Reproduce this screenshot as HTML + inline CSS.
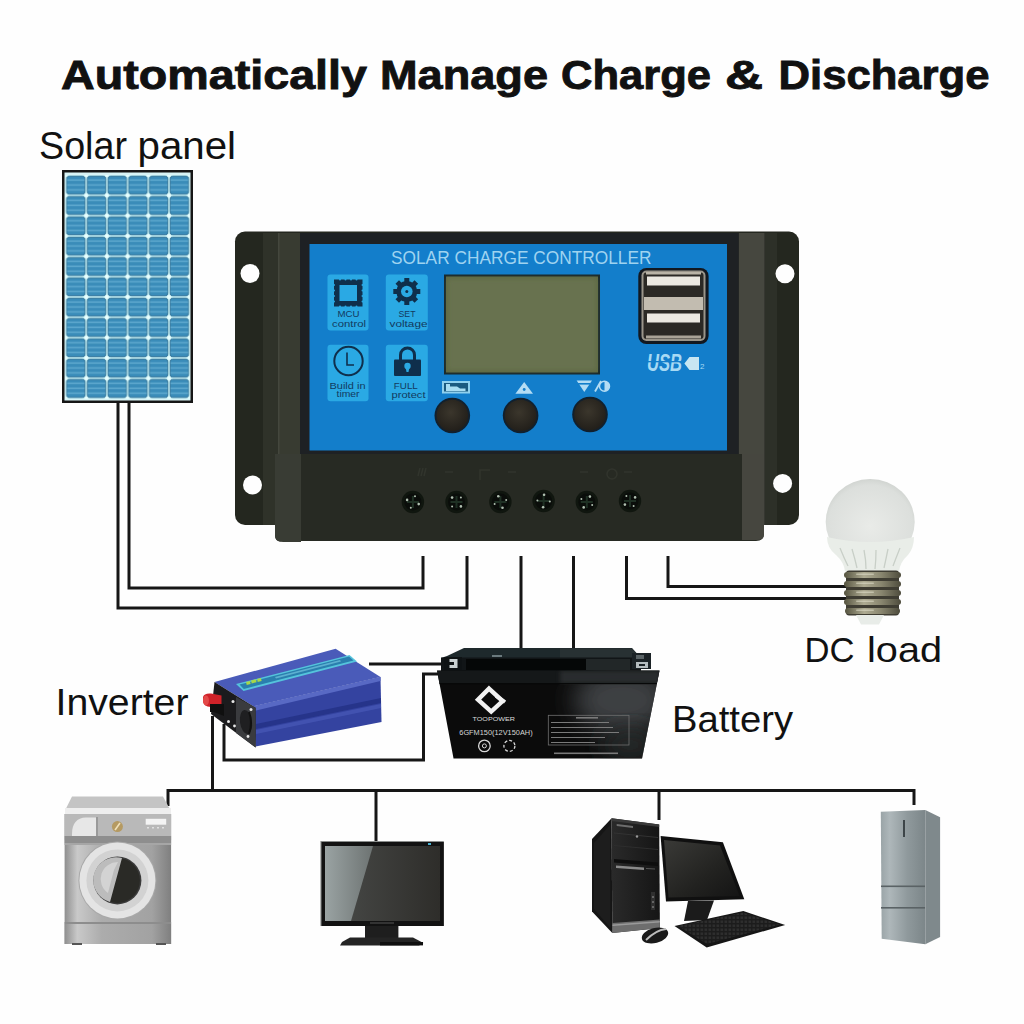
<!DOCTYPE html>
<html><head><meta charset="utf-8">
<style>
html,body{margin:0;padding:0;background:#fefefe;width:1024px;height:1024px;overflow:hidden}
svg{display:block}
text{font-family:"Liberation Sans",sans-serif}
</style></head>
<body>
<svg width="1024" height="1024" viewBox="0 0 1024 1024">
<defs>
  <pattern id="cells" x="65.5" y="175" width="20.7" height="20.33" patternUnits="userSpaceOnUse">
    <rect x="0" y="0" width="20.7" height="20.33" fill="#bfeaf0"/>
    <rect x="1.2" y="1.2" width="18.3" height="17.93" rx="2.5" fill="#3a8cb9" stroke="#2b6a90" stroke-width="0.8"/>
    <rect x="1.6" y="4.3" width="17.5" height="1.6" fill="#64aed2" opacity="0.8"/>
    <rect x="1.6" y="9.2" width="17.5" height="1.6" fill="#64aed2" opacity="0.8"/>
    <rect x="1.6" y="14.1" width="17.5" height="1.6" fill="#64aed2" opacity="0.8"/>
    <circle cx="0" cy="0" r="2" fill="#e8ffff"/>
    <circle cx="20.7" cy="0" r="2" fill="#e8ffff"/>
    <circle cx="0" cy="20.33" r="2" fill="#e8ffff"/>
    <circle cx="20.7" cy="20.33" r="2" fill="#e8ffff"/>
  </pattern>
  <linearGradient id="battG" x1="0" x2="1" y1="0" y2="0">
    <stop offset="0" stop-color="#0b0b0b"/>
    <stop offset="0.5" stop-color="#0c0c0c"/>
    <stop offset="0.68" stop-color="#1c1c1c"/>
    <stop offset="0.82" stop-color="#2e2f2f"/>
    <stop offset="1" stop-color="#121212"/>
  </linearGradient>
  <linearGradient id="wmG" x1="0" x2="1">
    <stop offset="0" stop-color="#8f8f8f"/>
    <stop offset="0.12" stop-color="#c9c9c9"/>
    <stop offset="0.35" stop-color="#acacac"/>
    <stop offset="0.82" stop-color="#a2a2a2"/>
    <stop offset="1" stop-color="#7f7f7f"/>
  </linearGradient>
  <linearGradient id="frG" x1="0" x2="1">
    <stop offset="0" stop-color="#9aa4a7"/>
    <stop offset="0.2" stop-color="#aeb7ba"/>
    <stop offset="0.6" stop-color="#8f999c"/>
    <stop offset="1" stop-color="#7c8689"/>
  </linearGradient>
  <radialGradient id="bulbG" cx="0.5" cy="0.55" r="0.6">
    <stop offset="0" stop-color="#e9ebe8"/>
    <stop offset="0.8" stop-color="#dcdfdc"/>
    <stop offset="1" stop-color="#c9cdc9"/>
  </radialGradient>
  <linearGradient id="baseG" x1="0" x2="1">
    <stop offset="0" stop-color="#55533f"/>
    <stop offset="0.35" stop-color="#aeab92"/>
    <stop offset="0.65" stop-color="#8a8770"/>
    <stop offset="1" stop-color="#4d4b3c"/>
  </linearGradient>
  <linearGradient id="tvG" x1="0" x2="1">
    <stop offset="0" stop-color="#4a4c4a"/>
    <stop offset="1" stop-color="#2e2d2a"/>
  </linearGradient>
  <linearGradient id="tvG2" x1="0" x2="1" y1="0" y2="0">
    <stop offset="0" stop-color="#9aa3a3"/>
    <stop offset="1" stop-color="#6d7372"/>
  </linearGradient>
  <linearGradient id="pcG" x1="0" x2="1">
    <stop offset="0" stop-color="#2a2a2a"/>
    <stop offset="1" stop-color="#151515"/>
  </linearGradient>
  <filter id="blur2" x="-10%" y="-10%" width="120%" height="120%"><feGaussianBlur stdDeviation="2"/></filter>
  <filter id="blur12" x="-50%" y="-50%" width="200%" height="200%"><feGaussianBlur stdDeviation="12"/></filter>
  <clipPath id="battClip"><polygon points="437,670.5 659.5,670.5 642,758.5 453.5,758.5"/></clipPath>
  <linearGradient id="pcScr" x1="0" y1="0" x2="1" y2="1">
    <stop offset="0" stop-color="#3a3a37"/>
    <stop offset="0.6" stop-color="#222220"/>
    <stop offset="1" stop-color="#141414"/>
  </linearGradient>
  <pattern id="keys" x="0" y="0" width="4" height="4" patternUnits="userSpaceOnUse">
    <rect width="4" height="4" fill="#1c1c1c"/>
    <rect x="0.5" y="0.5" width="2.6" height="2.4" fill="#2e2e2e"/>
  </pattern>
  <radialGradient id="btnG" cx="0.45" cy="0.4" r="0.6">
    <stop offset="0" stop-color="#3b362c"/>
    <stop offset="1" stop-color="#221f1a"/>
  </radialGradient>
</defs>

<!-- Title -->
<g font-size="41.5" font-weight="bold" fill="#111" stroke="#111" stroke-width="0.9">
<text x="61" y="89.3" textLength="306" lengthAdjust="spacingAndGlyphs">Automatically</text>
<text x="380" y="89.3" textLength="168" lengthAdjust="spacingAndGlyphs">Manage</text>
<text x="561" y="89.3" textLength="150" lengthAdjust="spacingAndGlyphs">Charge</text>
<text x="725" y="89.3" textLength="38" lengthAdjust="spacingAndGlyphs">&amp;</text>
<text x="778.5" y="89.3" textLength="211" lengthAdjust="spacingAndGlyphs">Discharge</text>
</g>

<!-- Labels -->
<text x="39" y="158.7" font-size="38" fill="#111" textLength="88" lengthAdjust="spacingAndGlyphs">Solar</text><text x="137.5" y="158.7" font-size="38" fill="#111" textLength="98.5" lengthAdjust="spacingAndGlyphs">panel</text>
<text x="55.5" y="715.4" font-size="37.5" fill="#111" textLength="133" lengthAdjust="spacingAndGlyphs">Inverter</text>
<text x="672" y="732" font-size="37" fill="#111" textLength="121" lengthAdjust="spacingAndGlyphs">Battery</text>
<text x="804.5" y="662.3" font-size="35" fill="#111" textLength="50" lengthAdjust="spacingAndGlyphs">DC</text><text x="867" y="662.3" font-size="35" fill="#111" textLength="75" lengthAdjust="spacingAndGlyphs">load</text>

<!-- Solar panel -->
<rect x="62" y="170" width="131" height="233" fill="#161616"/>
<rect x="64.5" y="172.5" width="126" height="228" fill="#d8f4f6"/>
<rect x="65.5" y="175" width="124.2" height="223.7" fill="url(#cells)"/>

<!-- Wires -->
<g fill="none" stroke="#161616" stroke-width="3" stroke-linejoin="miter">
  <path d="M118,402 V608 H467 V556"/>
  <path d="M129,402 V588 H423 V556"/>
  <path d="M521,556 V648"/>
  <path d="M573.5,556 V648"/>
  <path d="M626.5,556 V598.5 H846"/>
  <path d="M668,556 V586.5 H846"/>
  <path d="M369,664 H447"/>
  <path d="M438,674 H423.5 V760 H224 V724"/>
  <path d="M212.5,716 V790.5"/>
  <path d="M168,806 V790.5 H914 V805"/>
  <path d="M376,790.5 V841"/>
  <path d="M659,790.5 V820"/>
</g>

<!-- Controller -->
<g id="controller">
  <rect x="235" y="231.5" width="564" height="293.5" rx="10" fill="#24271f"/>
  <!-- body side strips -->
  <rect x="263" y="233" width="15" height="292" fill="#2f3229"/>
  <rect x="278" y="233" width="22" height="292" fill="#383b31"/>
  <rect x="278" y="233" width="1.5" height="292" fill="#44473d"/>
  <rect x="738.7" y="233" width="26" height="292" fill="#46473f"/>
  <rect x="764.7" y="233" width="12.3" height="292" fill="#2d3028"/>
  <rect x="300" y="233" width="438.7" height="222" fill="#1e2124"/>
  <!-- blue panel -->
  <rect x="309.5" y="244" width="417.5" height="206.5" fill="#137ecb"/>
  <!-- tiles -->
  <g fill="#2aa9e4">
    <rect x="327.5" y="274.5" width="41" height="56" rx="3"/>
    <rect x="385.8" y="274.5" width="42" height="56" rx="3"/>
    <rect x="327.5" y="344.8" width="41" height="56.5" rx="3"/>
    <rect x="385.8" y="344.8" width="42" height="56.5" rx="3"/>
  </g>
  <g fill="#0f2f4c" stroke="none">
    <!-- chip -->
    <path d="M334,279.5 H362.5 V306.5 H334 Z M339.5,285 V301 H357 V285 Z" fill-rule="evenodd"/>
    <g fill="#2aa9e4">
      <circle cx="340" cy="279.5" r="1"/><circle cx="345.5" cy="279.5" r="1"/><circle cx="351" cy="279.5" r="1"/><circle cx="356.5" cy="279.5" r="1"/>
      <circle cx="340" cy="306.5" r="1"/><circle cx="345.5" cy="306.5" r="1"/><circle cx="351" cy="306.5" r="1"/><circle cx="356.5" cy="306.5" r="1"/>
      <circle cx="334" cy="285" r="1"/><circle cx="334" cy="290.5" r="1"/><circle cx="334" cy="296" r="1"/><circle cx="334" cy="301.5" r="1"/>
      <circle cx="362.5" cy="285" r="1"/><circle cx="362.5" cy="290.5" r="1"/><circle cx="362.5" cy="296" r="1"/><circle cx="362.5" cy="301.5" r="1"/>
    </g>
    <!-- gear -->
    <g transform="translate(406.8,291.5)">
      <circle r="10.5"/>
      <rect x="-2.5" y="-13.5" width="5" height="27"/>
      <rect x="-2.5" y="-13.5" width="5" height="27" transform="rotate(45)"/>
      <rect x="-2.5" y="-13.5" width="5" height="27" transform="rotate(90)"/>
      <rect x="-2.5" y="-13.5" width="5" height="27" transform="rotate(135)"/>
      <circle r="5.8" fill="#2aa9e4"/>
      <circle r="1.5"/>
    </g>
    <!-- clock -->
    <circle cx="348.5" cy="361" r="14.2" fill="none" stroke="#0f2f4c" stroke-width="2"/>
    <path d="M347,352.5 V365 H354" fill="none" stroke="#0f2f4c" stroke-width="1.6"/>
    <!-- lock -->
    <path d="M400.5,360 V355 A6.8,6.8 0 0,1 414.5,355 V360" fill="none" stroke="#0f2f4c" stroke-width="3"/>
    <rect x="394" y="359.5" width="27" height="16.5" rx="1"/>
    <circle cx="407.5" cy="366" r="3.2" fill="#2aa9e4"/>
    <path d="M405.5,367 L409.5,367 L408.5,372 L406.5,372 Z" fill="#2aa9e4"/>
  </g>
  <g font-size="9" fill="#123a60" text-anchor="middle">
    <text x="348.5" y="316.5" textLength="22" lengthAdjust="spacingAndGlyphs">MCU</text>
    <text x="349" y="326.5" textLength="34" lengthAdjust="spacingAndGlyphs">control</text>
    <text x="407" y="316.5" textLength="17" lengthAdjust="spacingAndGlyphs">SET</text>
    <text x="408.5" y="326.5" textLength="38" lengthAdjust="spacingAndGlyphs">voltage</text>
    <text x="347.5" y="389" textLength="36" lengthAdjust="spacingAndGlyphs">Build  in</text>
    <text x="348" y="397" textLength="23" lengthAdjust="spacingAndGlyphs">timer</text>
    <text x="405.8" y="389" textLength="24" lengthAdjust="spacingAndGlyphs">FULL</text>
    <text x="408.5" y="397.5" textLength="34" lengthAdjust="spacingAndGlyphs">protect</text>
  </g>
  <text x="391" y="264" font-size="17.8" fill="#9fd3f0" textLength="260.5" lengthAdjust="spacingAndGlyphs">SOLAR CHARGE CONTROLLER</text>
  <!-- LCD -->
  <rect x="444" y="274.5" width="156" height="100" fill="#1b2a2c"/>
  <rect x="446" y="276.5" width="152" height="96" fill="#5f6a44"/>
  <rect x="448" y="279" width="148" height="91" fill="#687250" filter="url(#blur2)"/>
  <!-- button icons -->
  <rect x="442" y="381" width="28" height="12.5" fill="#8fd0ee"/>
  <rect x="444" y="383" width="24" height="8.5" fill="#1b5a80"/>
  <path d="M446,384 h4 v2.5 h7 l3,2 h5.5 v2.5 h-19.5 z" fill="#a9ddf2"/>
  <polygon points="524.2,382 533,393.8 515.4,393.8" fill="#b3dcf4"/>
  <circle cx="524.2" cy="389.5" r="1.4" fill="#137ecb"/>
  <polygon points="576.6,380.5 592,380.5 584.3,392" fill="#b3dcf4"/>
  <rect x="578" y="383" width="12" height="1.6" fill="#137ecb"/>
  <path d="M595,391.5 L601,381" stroke="#b3dcf4" stroke-width="1.8"/>
  <circle cx="604.5" cy="386.3" r="5" fill="none" stroke="#b3dcf4" stroke-width="1.5"/>
  <path d="M604.5,381.3 A5,5 0 0,1 604.5,391.3 Z" fill="#b3dcf4"/>
  <!-- buttons -->
  <g>
    <circle cx="452.3" cy="415.5" r="17.8" fill="#11202e"/>
    <circle cx="452.3" cy="415.5" r="15.8" fill="url(#btnG)"/>
    <circle cx="520.6" cy="415.5" r="17.8" fill="#11202e"/>
    <circle cx="520.6" cy="415.5" r="15.8" fill="url(#btnG)"/>
    <circle cx="590" cy="414.5" r="17.8" fill="#11202e"/>
    <circle cx="590" cy="414.5" r="15.8" fill="url(#btnG)"/>
  </g>
  <!-- USB -->
  <rect x="638.3" y="267.9" width="70.3" height="76.1" rx="8" fill="#121820"/>
  <rect x="641.5" y="270.5" width="64" height="70.5" rx="5" fill="#9a958a"/>
  <rect x="643.5" y="272.5" width="60" height="66.5" rx="3" fill="#2b2925"/>
  <rect x="647" y="276.5" width="53" height="9" fill="#ebe8e1"/>
  <rect x="647" y="313.5" width="53" height="9" fill="#ebe8e1"/>
  <rect x="644" y="297" width="59" height="13" fill="#c2bcb0"/>
  <rect x="646" y="335.5" width="55" height="3" fill="#a9a397"/>
  <rect x="646" y="272" width="55" height="2.5" fill="#b9b3a6"/>
  <text x="647" y="371.4" font-size="23" font-style="italic" font-weight="bold" fill="#a8daf4" textLength="35" lengthAdjust="spacingAndGlyphs">USB</text>
  <rect x="645" y="361" width="40" height="1.3" fill="#137ecb"/>
  <path d="M684.4,363.5 L689.5,357 H699 V370 H689.5 Z" fill="#c8e6f2"/>
  <text x="700" y="369" font-size="8" fill="#a8daf4">2</text>
  <!-- terminal block -->
  <path d="M275,454 H764 V534 Q764,541 756,541 H283 Q275,543 275,535 Z" fill="#272a23"/>
  <path d="M275,454 H301 V542 H283 Q275,542 275,535 Z" fill="#393c34"/>
  <path d="M742,454 H764 V534 Q764,540 757,540 H742 Z" fill="#46463f"/>
  <g fill="none" stroke="#34372f" stroke-width="1.5" opacity="0.8">
    <path d="M418,476 l2,-8 M421,476 l2,-8 M424,476 l2,-8"/>
    <path d="M445,472 h8"/>
    <path d="M480,480 v-10 h10"/>
    <path d="M508,472 h8"/>
    <path d="M580,472 h8"/>
    <circle cx="612" cy="474" r="5"/>
    <path d="M624,472 h8"/>
  </g>
  <g>
  <circle cx="412.9" cy="502" r="11.2" fill="#10160f"/>
  <circle cx="412.9" cy="502" r="8.5" fill="#0a0d0a"/>
  <path d="M406.9,502 h12 M412.9,496 v12" stroke="#1f3024" stroke-width="2"/>
  <circle cx="456.5" cy="502" r="11.2" fill="#10160f"/>
  <circle cx="456.5" cy="502" r="8.5" fill="#0a0d0a"/>
  <path d="M450.5,502 h12 M456.5,496 v12" stroke="#1f3024" stroke-width="2"/>
  <circle cx="500.4" cy="502" r="11.2" fill="#10160f"/>
  <circle cx="500.4" cy="502" r="8.5" fill="#0a0d0a"/>
  <path d="M494.4,502 h12 M500.4,496 v12" stroke="#1f3024" stroke-width="2"/>
  <circle cx="543.6" cy="501" r="11.2" fill="#10160f"/>
  <circle cx="543.6" cy="501" r="8.5" fill="#0a0d0a"/>
  <path d="M537.6,501 h12 M543.6,495 v12" stroke="#1f3024" stroke-width="2"/>
  <circle cx="586.8" cy="502" r="11.2" fill="#10160f"/>
  <circle cx="586.8" cy="502" r="8.5" fill="#0a0d0a"/>
  <path d="M580.8,502 h12 M586.8,496 v12" stroke="#1f3024" stroke-width="2"/>
  <circle cx="630.0" cy="501" r="11.2" fill="#10160f"/>
  <circle cx="630.0" cy="501" r="8.5" fill="#0a0d0a"/>
  <path d="M624.0,501 h12 M630.0,495 v12" stroke="#1f3024" stroke-width="2"/>
  </g>
  <g fill="#cfe0cf" opacity="0.85">
  <circle cx="407.1" cy="499.9" r="1.3"/>
  <circle cx="415.0" cy="496.2" r="1.0"/>
  <circle cx="418.7" cy="504.1" r="1.3"/>
  <circle cx="410.8" cy="507.8" r="1.0"/>
  <circle cx="452.1" cy="497.6" r="1.3"/>
  <circle cx="460.9" cy="497.6" r="1.0"/>
  <circle cx="460.9" cy="506.4" r="1.3"/>
  <circle cx="452.1" cy="506.4" r="1.0"/>
  <circle cx="498.3" cy="496.2" r="1.3"/>
  <circle cx="506.2" cy="499.9" r="1.0"/>
  <circle cx="502.5" cy="507.8" r="1.3"/>
  <circle cx="494.6" cy="504.1" r="1.0"/>
  <circle cx="544.1" cy="494.8" r="1.3"/>
  <circle cx="549.8" cy="501.5" r="1.0"/>
  <circle cx="543.1" cy="507.2" r="1.3"/>
  <circle cx="537.4" cy="500.5" r="1.0"/>
  <circle cx="589.9" cy="496.6" r="1.3"/>
  <circle cx="592.2" cy="505.1" r="1.0"/>
  <circle cx="583.7" cy="507.4" r="1.3"/>
  <circle cx="581.4" cy="498.9" r="1.0"/>
  <circle cx="635.1" cy="497.4" r="1.3"/>
  <circle cx="633.6" cy="506.1" r="1.0"/>
  <circle cx="624.9" cy="504.6" r="1.3"/>
  <circle cx="626.4" cy="495.9" r="1.0"/>
  </g>
  <circle cx="250" cy="273.5" r="9.5" fill="#fefefe"/>
  <circle cx="252.5" cy="485" r="9.5" fill="#fefefe"/>
  <circle cx="785" cy="273.7" r="9.5" fill="#fefefe"/>
  <circle cx="782.6" cy="483.4" r="9.5" fill="#fefefe"/>
</g>

<!-- DC load bulb -->
<g id="bulb">
  <ellipse cx="870.2" cy="522" rx="44.5" ry="43" fill="url(#bulbG)"/>
  <path d="M827,537 Q870,547 914,537 Q914,548 908,555 Q900,562 899,571.5 H845 Q844,562 836,555 Q827,548 827,537 Z" fill="#e9ede8"/>
  <g fill="none" stroke="#c5ccc4" stroke-width="1.3" opacity="0.9">
    <path d="M840,548 q4,10 8,18"/><path d="M852,549 q3,10 5,19"/><path d="M864,550 q2,10 2,19"/>
    <path d="M876,550 q0,10 -1,19"/><path d="M888,549 q-2,10 -4,19"/><path d="M900,548 q-4,10 -7,18"/>
  </g>
  <rect x="846" y="570.5" width="53" height="45" rx="3" fill="#3f3d33"/>
  <g fill="url(#baseG)">
    <rect x="844" y="572" width="57" height="6" rx="3"/>
    <rect x="844" y="581" width="57" height="6" rx="3"/>
    <rect x="844" y="590" width="57" height="6" rx="3"/>
    <rect x="844" y="599" width="57" height="6" rx="3"/>
    <rect x="845" y="608" width="55" height="6" rx="3"/>
  </g>
  <g fill="#e2e0cc" opacity="0.55">
    <rect x="856" y="573.5" width="18" height="1.6" rx="0.8"/>
    <rect x="856" y="582.5" width="18" height="1.6" rx="0.8"/>
    <rect x="856" y="591.5" width="18" height="1.6" rx="0.8"/>
    <rect x="856" y="600.5" width="18" height="1.6" rx="0.8"/>
    <rect x="856" y="609.5" width="18" height="1.6" rx="0.8"/>
  </g>
  <path d="M856,615 H884 L879,624.5 H861 Z" fill="#e8ece8"/>
</g>

<!-- Inverter -->
<g id="inverter">
  <!-- side face -->
  <polygon points="253.6,706.4 380.5,677.1 381.5,722 255.5,746.4" fill="#3443a0"/>
  <polygon points="256,724 381,698 381,703 256,729" fill="#26348a"/>
  <polygon points="256,730 381,704 381,708 256,734" fill="#4656b4" opacity="0.8"/>
  <!-- top face -->
  <polygon points="214.5,682 335.6,648.8 380.5,677.1 253.6,706.4" fill="#4a5bb9"/>
  <polygon points="253.6,706.4 380.5,677.1 380.5,681 254,711" fill="#5869c4"/>
  <!-- label strip -->
  <polygon points="236,684 349.5,655 357,661.5 243.5,691" fill="#55c4dc"/>
  <polygon points="239.5,684.6 349,656.6 353.5,660.6 243.8,689" fill="#2a7fae"/>
  <g fill="#a8d848"><rect x="246" y="682" width="4" height="3" transform="rotate(-14 246 682)"/><rect x="251" y="680.5" width="5" height="3" transform="rotate(-14 251 680.5)"/><rect x="257" y="679" width="4" height="3" transform="rotate(-14 257 679)"/></g>
  <polygon points="275,677 340,660 341,661.5 276,678.5" fill="#7fd0e8" opacity="0.6"/>
  <!-- end face -->
  <polygon points="214.5,682 255.6,707.8 255.6,747.4 211,714" fill="#1b1b1d"/>
  <polygon points="236,697 255.6,707.8 255.6,747.4 236,733" fill="#3a3b3e"/>
  <ellipse cx="246" cy="722" rx="6" ry="12" fill="#1f1f21" transform="rotate(-8 246 722)"/>
  <path d="M249,712 Q253,722 249,734" stroke="#111" stroke-width="2" fill="none"/>
  <g fill="#e6e6e6">
    <circle cx="233" cy="701.5" r="1.5"/>
    <circle cx="251" cy="709.5" r="1.5"/>
    <circle cx="228.5" cy="721.5" r="1.5"/>
    <circle cx="234.5" cy="726" r="1.4"/>
    <circle cx="248" cy="736.5" r="1.4"/>
  </g>
  <!-- red terminal -->
  <path d="M203,697 Q204,693 211,693.5 L221.5,695.5 L221.5,706 L211,707 Q203,706.5 203,701 Z" fill="#cf2229"/>
  <ellipse cx="206" cy="700.5" rx="3" ry="5" fill="#e34848"/>
  <path d="M210,704 H224 V716 L214,712 H210 Z" fill="#0f0f0f"/>
</g>

<!-- Battery -->
<g id="battery">
  <polygon points="447,656 464,648 632,648 641,658 441,658" fill="#1e292c"/>
  <polygon points="560,648.5 632,648.5 641,658 560,658" fill="#2a3336" opacity="0.8"/>
  <rect x="441" y="657.5" width="200" height="14" fill="#111517"/>
  <rect x="466" y="659" width="120" height="11" fill="#050707"/>
  <rect x="586" y="659" width="44" height="11" fill="#2a2f31" opacity="0.7"/>
  <rect x="492" y="655" width="10" height="2" fill="#6b7a7e"/>
  <!-- terminals -->
  <path d="M444,657 H462 V670 H444 Z" fill="#0e1214"/>
  <path d="M449.5,659 H457.5 V668 H449.5 Z" fill="#c9d0d2"/>
  <path d="M446,662 H454 V665 H446 Z" fill="#0e1214"/>
  <path d="M632,653 H651 V669 H632 Z" fill="#1b2226"/>
  <path d="M636,662 H648 V668 H636 Z" fill="#b3bbbe"/>
  <path d="M639,664 H645 V666 H639 Z" fill="#1b2226"/>
  <path d="M636,655 H644 V659 H636 Z" fill="#5a6366"/>
  <!-- body -->
  <polygon points="437,670.5 659.5,670.5 642,758.5 453.5,758.5" fill="#0b0b0b"/>
  <g clip-path="url(#battClip)">
    <ellipse cx="622" cy="700" rx="48" ry="34" fill="#3c4042" filter="url(#blur12)"/>
    <ellipse cx="630" cy="745" rx="30" ry="16" fill="#262a2a" filter="url(#blur12)"/>
    <rect x="437" y="670.5" width="223" height="13" fill="#151819"/>
    <rect x="560" y="670.5" width="100" height="13" fill="#3a3e3f" opacity="0.55" filter="url(#blur2)"/>
    <rect x="437" y="683" width="223" height="1.2" fill="#070808"/>
  </g>
  <!-- logo -->
  <polygon points="489,688.6 502.6,701 491.2,711.6 478,699.6" fill="none" stroke="#f2f2f2" stroke-width="4.4" stroke-linejoin="miter"/>
  <path d="M496,696 L505,702" stroke="#f2f2f2" stroke-width="3.6"/>
  <text x="472.5" y="721" font-size="5.8" fill="#dcdcdc" textLength="42.5" lengthAdjust="spacingAndGlyphs">TOOPOWER</text>
  <text x="459.3" y="734.7" font-size="7.6" fill="#d6d6d6" textLength="73.3" lengthAdjust="spacingAndGlyphs">6GFM150(12V150AH)</text>
  <circle cx="484.4" cy="745.9" r="5.8" fill="none" stroke="#d8d8d8" stroke-width="1.3"/>
  <circle cx="484.4" cy="745.9" r="2" fill="none" stroke="#d8d8d8" stroke-width="1"/>
  <circle cx="509.4" cy="745.9" r="5.5" fill="none" stroke="#d8d8d8" stroke-width="1.3" stroke-dasharray="3 2"/>
  <!-- caution box -->
  <rect x="548.3" y="715.3" width="80.7" height="29.7" fill="none" stroke="#6f6f6f" stroke-width="0.8"/>
  <g fill="#7a7a7a">
    <rect x="576" y="717" width="22" height="1.6"/>
    <rect x="551" y="722" width="58" height="1"/>
    <rect x="551" y="727" width="62" height="1"/>
    <rect x="551" y="732" width="68" height="1"/>
    <rect x="551" y="737" width="54" height="1"/>
    <rect x="551" y="742" width="44" height="1"/>
    <rect x="554" y="752.5" width="64" height="1.6"/>
  </g>
</g>

<!-- Washing machine -->
<g id="washer">
  <polygon points="72,796.5 163,796.5 169.5,808.5 66,808.5" fill="#c4c4c4"/>
  <rect x="65" y="808" width="106" height="6.5" fill="#eeeeee"/>
  <rect x="64.6" y="814" width="106.5" height="130" fill="url(#wmG)"/>
  <!-- control panel -->
  <rect x="64.6" y="814" width="106.5" height="26" fill="#b9b9b9"/>
  <path d="M72,834 Q72,818 86,817.5 H96 V836 H72 Z" fill="#e7e7e7"/>
  <rect x="96" y="817" width="2" height="20" fill="#9a9a9a"/>
  <circle cx="117.4" cy="826.6" r="5.5" fill="#b59a62"/>
  <path d="M115,830 L120,823" stroke="#f0e0b8" stroke-width="1.6"/>
  <rect x="145.7" y="818.8" width="20.5" height="5.9" fill="#f4f4f4"/>
  <g fill="#e0e0e0"><rect x="147" y="827" width="2" height="1.5"/><rect x="152" y="827" width="2" height="1.5"/><rect x="157" y="827" width="2" height="1.5"/><rect x="162" y="827" width="2" height="1.5"/></g>
  <rect x="64.6" y="836" width="106.5" height="7" fill="#8e8e8e"/>
  <rect x="64.6" y="843" width="106.5" height="2" fill="#a6a6a6"/>
  <!-- bottom band -->
  <rect x="64.6" y="922" width="106.5" height="2" fill="#8d8d8d"/>
  <rect x="64.6" y="924" width="106.5" height="20" fill="url(#wmG)" opacity="0.9"/>
  <rect x="72" y="943" width="10" height="2" fill="#555"/><rect x="156" y="943" width="10" height="2" fill="#555"/>
  <!-- door -->
  <circle cx="117.4" cy="880.4" r="39" fill="#a9a9a9"/>
  <circle cx="117.4" cy="880.4" r="38" fill="#e4e4e4"/>
  <circle cx="117.4" cy="880.4" r="31" fill="#d2d2d2"/>
  <circle cx="117.4" cy="880.4" r="24" fill="#3b3b3b"/>
  <circle cx="117.4" cy="880.4" r="22.5" fill="#2a2a26"/>
  <path d="M122,858 A22.5,22.5 0 0,0 110,902 Z" fill="#bcbcbc"/>
  <path d="M118,862 A17,17 0 0,0 108,893 L114,870 Z" fill="#d8d8d8" opacity="0.8"/>
</g>

<!-- TV -->
<g id="tv">
  <rect x="320.4" y="841" width="123.4" height="85" fill="#8a8d8c"/>
  <rect x="321.5" y="842" width="122.3" height="84" fill="#121212"/>
  <rect x="325" y="846" width="115" height="75" fill="url(#tvG)"/>
  <polygon points="325,846 373,846 351,921 325,921" fill="url(#tvG2)"/>
  <rect x="428" y="843" width="3" height="2" fill="#4ab0d0"/>
  <rect x="370" y="922" width="24" height="2" fill="#333"/>
  <rect x="365" y="926" width="33.4" height="12" fill="#1e1e1e"/>
  <polygon points="350,937.5 413,937.5 423.4,943 419,945.4 340,945.4 342,942" fill="#242424"/>
  <rect x="380" y="942" width="43" height="3.4" fill="#0f0f0f"/>
</g>

<!-- Computer -->
<g id="computer">
  <polygon points="592,839 611.6,818.2 612.3,933 592,911.5" fill="#151515"/>
  <polygon points="594,843 610,825 610.5,928 594,909" fill="#1d1d1d"/>
  <polygon points="611.6,818.2 659.2,824.6 659.9,928 612.3,933" fill="url(#pcG)"/>
  <polygon points="611.6,818.2 659.2,824.6 659.2,827 611.6,821" fill="#3a3a3a"/>
  <polygon points="616.7,824 633,826 633,828 616.7,826" fill="#6d6d6d"/>
  <polygon points="614,832.5 658,837 658,838 614,833.5" fill="#333"/>
  <circle cx="637" cy="836.5" r="1.2" fill="#9a9a9a"/>
  <polygon points="614,845 658,849 658,850 614,846" fill="#2e2e2e"/>
  <polygon points="614,859 658,862.5 658,866 614,862.5" fill="#0e0e0e"/>
  <polygon points="616,865.5 644,867.5 644,870 616,868" fill="#8a8a8a"/>
  <polygon points="646,868 655,868.5 655,869.5 646,869" fill="#555"/>
  <polygon points="651,892 655,892 655,910 651,910" fill="#2f2f2f"/>
  <circle cx="653" cy="897" r="1" fill="#777"/><circle cx="653" cy="902" r="1" fill="#777"/><circle cx="653" cy="907" r="1" fill="#777"/>
  <polygon points="612.5,923 659.8,919.5 659.9,928 612.3,933" fill="#6e6e6e"/>
  <polygon points="612.5,924.5 659.8,921 659.8,922.5 612.5,926" fill="#9a9a9a"/>
  <polygon points="660.6,835.9 722.9,842.3 744.3,899.2 666,901.4" fill="#101010"/>
  <polygon points="664,840 720,845.5 739.5,896 668.5,897.5" fill="url(#pcScr)"/>
  <polygon points="688,901 714,900.5 707,920 684,921" fill="#1b1b1b"/>
  <polygon points="674.5,926 743.3,911 785.2,925 706.7,947.6" fill="#161616"/>
  <polygon points="678,926 743,912.5 780,924.5 707,944" fill="url(#keys)"/>
  <ellipse cx="655" cy="935.5" rx="13.5" ry="7.5" fill="#1a1a1a" transform="rotate(-15 655 935.5)"/>
  <path d="M646,940 Q656,930 666,929" stroke="#bdbdbd" stroke-width="1.8" fill="none"/>
</g>

<!-- Fridge -->
<g id="fridge">
  <polygon points="880.8,811.7 925.3,809.9 925.3,944.3 881.7,938.7" fill="url(#frG)"/>
  <polygon points="925.3,809.9 940.1,817.3 940.1,936.9 925.3,944.3" fill="#7f898c"/>
  <rect x="881" y="885.5" width="44" height="1.6" fill="#5a6265"/>
  <rect x="881" y="907" width="44" height="1.6" fill="#5a6265"/>
  <rect x="903" y="820" width="2" height="17" fill="#3d4548"/>
</g>

</svg>
</body></html>
